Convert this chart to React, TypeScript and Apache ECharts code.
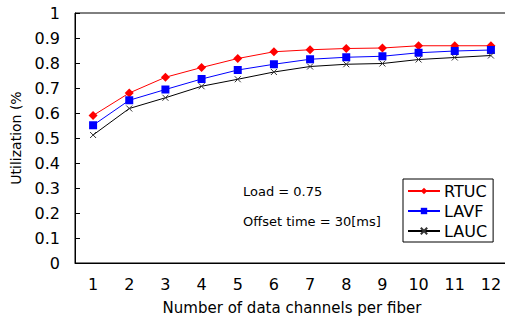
import React, { useEffect, useRef } from "react";
import * as echarts from "echarts";

const categories = ["1", "2", "3", "4", "5", "6", "7", "8", "9", "10", "11", "12"];
const rtuc = [0.59, 0.68, 0.743, 0.782, 0.818, 0.845, 0.853, 0.858, 0.86, 0.869, 0.869, 0.869];
const lavf = [0.551, 0.651, 0.694, 0.736, 0.772, 0.795, 0.815, 0.823, 0.827, 0.841, 0.848, 0.852];
const lauc = [0.512, 0.618, 0.661, 0.707, 0.735, 0.764, 0.786, 0.795, 0.798, 0.814, 0.822, 0.83];
const seriesNames = ["RTUC", "LAVF", "LAUC"];
const annotations = ["Load = 0.75", "Offset time = 30[ms]"];

const FONT = "DejaVu Sans";

export default function App() {
  const ref = useRef<HTMLDivElement>(null);
  useEffect(() => {
    if (!ref.current) return;
    const chart = echarts.init(ref.current, null, { renderer: "svg" });
    chart.setOption({
      animation: false,
      backgroundColor: "#fff",
      grid: {
        left: 75,
        top: 13,
        bottom: 53,
        right: 1,
        show: true,
        borderColor: "#000",
        borderWidth: 1,
        backgroundColor: "transparent",
      },
      legend: {
        orient: "vertical",
        left: 403,
        top: 179,
        width: 93,
        data: seriesNames,
        itemWidth: 32,
        itemHeight: 8,
        itemGap: 4,
        padding: [4, 6, 3, 4],
        borderColor: "#000",
        borderWidth: 1,
        backgroundColor: "#fff",
        textStyle: { fontFamily: FONT, fontSize: 16, color: "#000", padding: [0, 0, 0, -1] },
      },
      xAxis: {
        type: "category",
        data: categories,
        boundaryGap: true,
        name: "Number of data channels per fiber",
        nameLocation: "middle",
        nameGap: 37,
        nameTextStyle: { fontFamily: FONT, fontSize: 15, color: "#000" },
        axisLine: { lineStyle: { color: "#000", width: 1 } },
        axisTick: { inside: true, length: 4, lineStyle: { color: "#000" } },
        axisLabel: { fontFamily: FONT, fontSize: 16, color: "#000", margin: 13 },
        splitLine: { show: false },
      },
      yAxis: {
        type: "value",
        min: 0,
        max: 1,
        interval: 0.1,
        name: "Utilization (%",
        nameLocation: "middle",
        nameGap: 52,
        nameTextStyle: { fontFamily: FONT, fontSize: 14, color: "#000" },
        axisLine: { show: true, lineStyle: { color: "#000", width: 1 } },
        axisTick: { show: true, inside: true, length: 5, lineStyle: { color: "#000" } },
        axisLabel: { fontFamily: FONT, fontSize: 16, color: "#000", margin: 15 },
        splitLine: { show: false },
      },
      graphic: [
        {
          type: "text",
          left: 243,
          top: 185,
          style: { text: annotations[0], font: `13px "${FONT}"`, fill: "#000" },
        },
        {
          type: "text",
          left: 243,
          top: 215,
          style: { text: annotations[1], font: `13px "${FONT}"`, fill: "#000" },
        },
      ],
      series: [
        {
          name: seriesNames[0],
          type: "line",
          data: rtuc,
          symbol: "diamond",
          symbolSize: 9,
          color: "#ff0000",
          lineStyle: { color: "#ff0000", width: 1 },
          itemStyle: { color: "#ff0000" },
        },
        {
          name: seriesNames[1],
          type: "line",
          data: lavf,
          symbol: "rect",
          symbolSize: 8,
          color: "#0000ff",
          lineStyle: { color: "#0000ff", width: 1 },
          itemStyle: { color: "#0000ff" },
        },
        {
          name: seriesNames[2],
          type: "line",
          data: lauc,
          symbol: "path://M0,0L10,10M10,0L0,10",
          symbolSize: 6,
          color: "#000",
          lineStyle: { color: "#000", width: 1 },
          itemStyle: { color: "#000", borderColor: "#333", borderWidth: 1 },
        },
      ],
    });
    return () => chart.dispose();
  }, []);
  return (
    <div style={{ position: "fixed", left: 0, top: 0, width: 505, height: 320, overflow: "hidden", background: "#fff" }}>
      <div ref={ref} style={{ width: 510, height: 320 }} />
    </div>
  );
}
